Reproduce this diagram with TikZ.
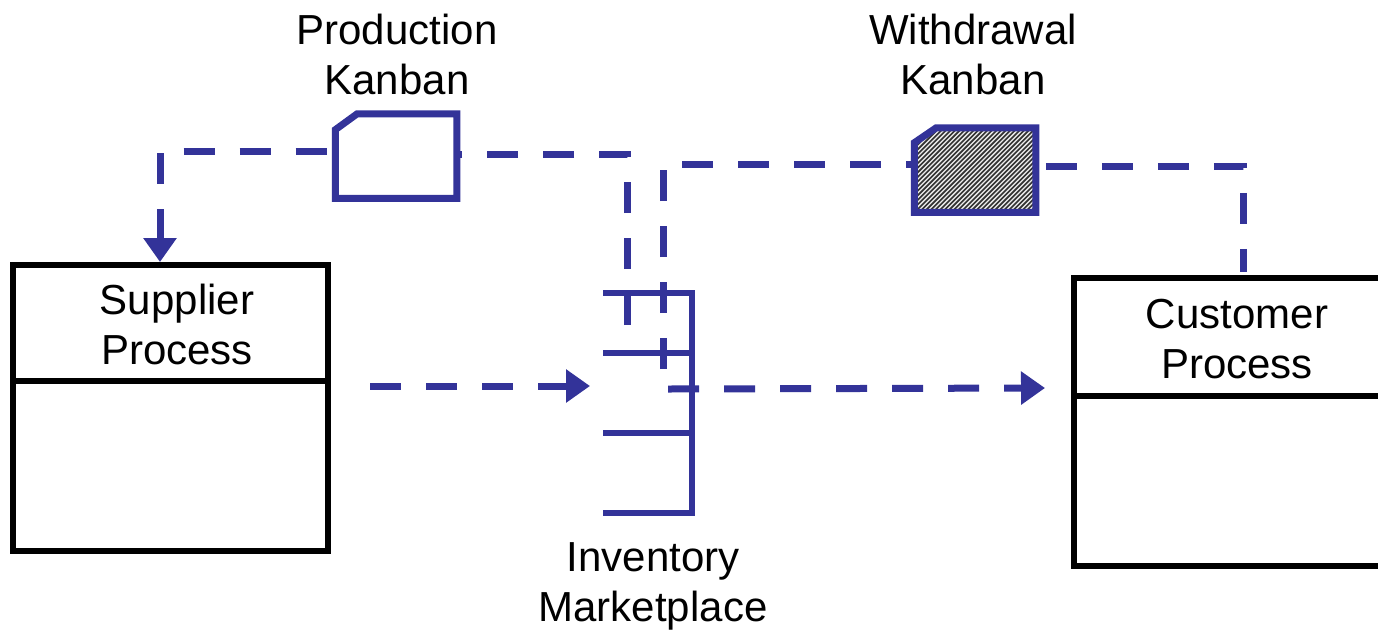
\documentclass[tikz,border=0pt]{standalone}
\usepackage{fontspec}
\setmainfont{Liberation Sans}
\usetikzlibrary{arrows.meta}
\definecolor{kblue}{HTML}{333399}
\tikzset{
  kb/.style={draw=kblue, line width=7pt, line join=miter},
  flow/.style={draw=kblue, line width=7pt, dash pattern=on 31pt off 25pt},
  tipped/.style={-{Triangle[length=24pt,width=32pt]}},
  rtipped/.style={{Triangle[length=24pt,width=32pt]}-},
  procbox/.style={draw=black, line width=6pt, rectangle, inner sep=0pt, outer sep=0pt},
  kanban/.style={rectangle, inner sep=0pt, outer sep=0pt, minimum width=121.5pt, minimum height=84.5pt},
  lbl/.style={font=\fontsize{42}{50}\selectfont, align=center, inner sep=0pt, anchor=base},
  shelf/.style={draw=kblue, line width=6pt}
}
\begin{document}
\begin{tikzpicture}[x=1pt,y=-1pt]
\useasboundingbox (0,0) rectangle (1378,630);
% process boxes
\node[procbox, minimum width=315pt, minimum height=286pt] (sup) at (170.5,408) {};
\draw[line width=6pt] (sup.west |- 0,381) -- (sup.east |- 0,381);
\node[lbl] (suptxt) at (177,364) {Supplier\\Process};
\node[procbox, minimum width=316.5pt, minimum height=288.5pt] (cus) at (1231.75,421.75) {};
\draw[line width=6pt] (cus.west |- 0,396) -- (cus.east |- 0,396);
\node[lbl] (custxt) at (1237,378) {Customer\\Process};
% kanbans
\node[kanban] (pk) at (396,156) {};
\draw[kb] (pk.south west) -- ([yshift=-16pt]pk.north west) -- ([xshift=22pt]pk.north west) -- (pk.north east) -- (pk.south east) -- cycle;
\node[lbl] (pktxt) at (397,94) {Production\\Kanban};
\node[kanban] (wk) at (975,170) {};
\begin{scope}
  \clip (wk.south west) -- ([yshift=-15pt]wk.north west) -- ([xshift=22pt]wk.north west) -- (wk.north east) -- (wk.south east) -- cycle;
  \fill[gray!15] (wk.south west) rectangle (wk.north east);
  \foreach \i in {0,4.6,...,240} {
    \draw[black!80, line width=1.6pt] ([xshift=\i pt-110pt]wk.south west) -- ++(110,-110);
  }
\end{scope}
\draw[kb] (wk.south west) -- ([yshift=-15pt]wk.north west) -- ([xshift=22pt]wk.north west) -- (wk.north east) -- (wk.south east) -- cycle;
\node[lbl] (wktxt) at (973,94) {Withdrawal\\Kanban};
% marketplace
\coordinate (mtop) at (692,293);
\coordinate (mbot) at (692,513);
\draw[shelf] (mtop) -- (mbot);
\foreach \y in {293,353,433,513} {
  \draw[shelf] (603,\y) -- (695,\y);
}
\node[lbl] (mktxt) at (653,621) {Inventory\\Marketplace};
% connector end points
\coordinate (sin) at (160,262);
\coordinate (m1) at (627,325);
\coordinate (m2) at (663,369);
\coordinate (cin) at (1243,272);
\coordinate (sout) at (370,386);
\coordinate (min) at (590,386);
\coordinate (mout) at (668,389);
\coordinate (cleft) at (1045,388);
% connectors
\draw[flow,rtipped] (sin) |- ([yshift=5pt]pk.west);
\draw[flow] (m1) |- ([yshift=2pt]pk.east);
\draw[flow] (m2) |- ([yshift=6pt]wk.west);
\draw[flow, dash phase=46pt] ([yshift=4pt]wk.east) -| (cin);
\draw[flow,tipped] (sout) -- (min);
\draw[flow,tipped] (mout) -- (cleft);
\end{tikzpicture}
\end{document}
